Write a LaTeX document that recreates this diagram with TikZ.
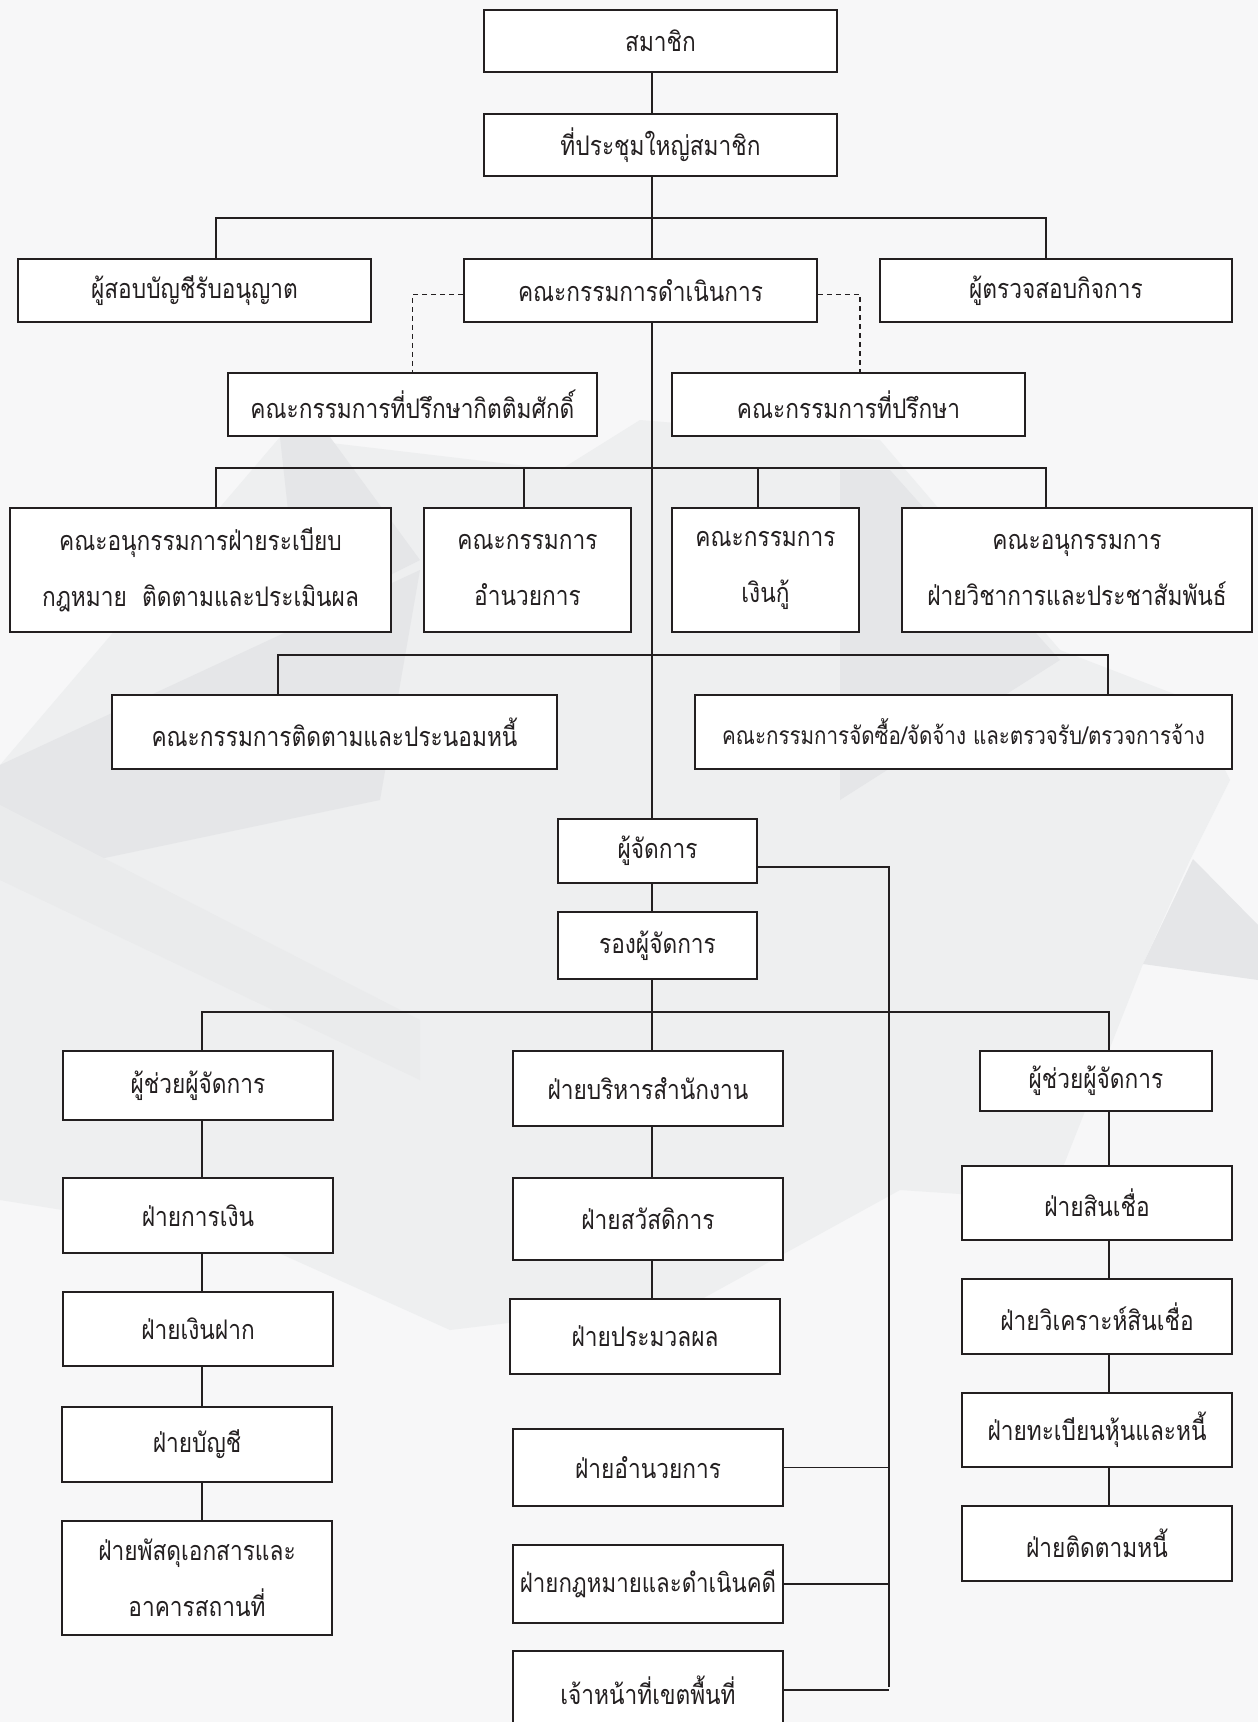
\documentclass[tikz,border=0pt]{standalone}
\usepackage{fontspec}
\newfontfamily\thaifont[Script=Thai, FakeStretch=0.84]{Loma}
\usetikzlibrary{calc}
\definecolor{paper}{HTML}{F7F7F8}
\definecolor{shadeA}{HTML}{EEEFF0}
\definecolor{shadeB}{HTML}{E5E6E8}
\definecolor{ink}{HTML}{231F20}

\begin{document}
\begin{tikzpicture}[x=1pt, y=-1pt,
unit/.style={rectangle, draw=ink, line width=1.8pt, fill=white, text=ink, inner sep=2pt,
  align=center, font=\thaifont\fontsize{27}{56}\selectfont},
wire/.style={draw=ink, line width=1.4pt},
link/.style={draw=ink, line width=1.4pt, dash pattern=on 5pt off 4pt}
  ]
  % background
  \useasboundingbox (0,0) rectangle (1258,1722);
  \fill[paper] (0,0) rectangle (1258,1722);
  \fill[shadeA] (0,765) -- (280,437) -- (560,470) -- (640,420) -- (880,440) -- (1060,650)
    -- (1190,700) -- (1230,780) -- (1190,860) -- (1143,964) -- (1050,1200) -- (900,1190)
    -- (700,1300) -- (450,1330) -- (250,1240) -- (0,1200) -- cycle;
  \fill[shadeB] (0,765) -- (420,570) -- (380,800) -- (0,880) -- cycle;
  \fill[shadeB] (280,437) -- (330,437) -- (420,560) -- (300,620) -- cycle;
  \fill[shadeB] (840,470) -- (890,470) -- (1060,660) -- (840,800) -- cycle;
  \fill[shadeB] (1193,859) -- (1258,925) -- (1258,980) -- (1143,964) -- cycle;
  \fill[shadeB!50!shadeA] (0,805) -- (420,1020) -- (420,1080) -- (0,880) -- cycle;

  % top levels
  \node[unit, minimum width=353, minimum height=62] (members) at (660.5,41) {สมาชิก};
  \node[unit, minimum width=353, minimum height=62] (meeting) at (660.5,145) {ที่ประชุมใหญ่สมาชิก};
  \node[unit, minimum width=353, minimum height=63] (auditor) at (194.5,290.5) {ผู้สอบบัญชีรับอนุญาต};
  \node[unit, minimum width=353, minimum height=63] (board) at (640.5,290.5) {คณะกรรมการดำเนินการ};
  \node[unit, minimum width=352, minimum height=63] (inspector) at (1056,290.5) {ผู้ตรวจสอบกิจการ};
  \node[unit, minimum width=369, minimum height=63] (honadv) at (412.5,404.5) {คณะกรรมการที่ปรึกษากิตติมศักดิ์};
  \node[unit, minimum width=353, minimum height=63] (advisors) at (848.5,404.5) {คณะกรรมการที่ปรึกษา};

  % committees
  \node[unit, minimum width=381, minimum height=124] (subrule) at (200.5,570) {คณะอนุกรรมการฝ่ายระเบียบ\\กฎหมาย\ \ ติดตามและประเมินผล};
  \node[unit, minimum width=207, minimum height=124] (subadmin) at (527.5,570) {คณะกรรมการ\\อำนวยการ};
  \node[unit, minimum width=187, minimum height=124] (subloan) at (765.5,570) {คณะกรรมการ\\เงินกู้};
  \node[unit, minimum width=350, minimum height=124] (subacad) at (1077,570) {คณะอนุกรรมการ\\ฝ่ายวิชาการและประชาสัมพันธ์};
  \node[unit, minimum width=445, minimum height=74] (debtcom) at (334.5,732) {คณะกรรมการติดตามและประนอมหนี้};
  \node[unit, minimum width=537, minimum height=74, font=\thaifont\fontsize{24.5}{28}\selectfont] (procure) at (963.5,732) {คณะกรรมการจัดซื้อ/จัดจ้าง และตรวจรับ/ตรวจการจ้าง};

  % management
  \node[unit, minimum width=199, minimum height=64] (manager) at (657.5,851) {ผู้จัดการ};
  \node[unit, minimum width=199, minimum height=67] (deputy) at (657.5,945.5) {รองผู้จัดการ};

  % left column
  \node[unit, minimum width=270, minimum height=69] (asstL) at (198,1085.5) {ผู้ช่วยผู้จัดการ};
  \node[unit, minimum width=270, minimum height=75] (finance) at (198,1215.5) {ฝ่ายการเงิน};
  \node[unit, minimum width=270, minimum height=74] (deposit) at (198,1329) {ฝ่ายเงินฝาก};
  \node[unit, minimum width=270, minimum height=75] (account) at (197,1444.5) {ฝ่ายบัญชี};
  \node[unit, minimum width=270, minimum height=114] (supply) at (197,1578) {ฝ่ายพัสดุเอกสารและ\\อาคารสถานที่};

  % middle column
  \node[unit, minimum width=270, minimum height=75] (office) at (648,1088.5) {ฝ่ายบริหารสำนักงาน};
  \node[unit, minimum width=270, minimum height=82] (welfare) at (648,1219) {ฝ่ายสวัสดิการ};
  \node[unit, minimum width=270, minimum height=75] (dataproc) at (645,1336.5) {ฝ่ายประมวลผล};
  \node[unit, minimum width=270, minimum height=77] (general) at (648,1467.5) {ฝ่ายอำนวยการ};
  \node[unit, minimum width=270, minimum height=78, font=\thaifont\fontsize{26.5}{28}\selectfont] (legal) at (648,1584) {ฝ่ายกฎหมายและดำเนินคดี};
  \node[unit, minimum width=270, minimum height=78] (fieldstaff) at (648,1690) {เจ้าหน้าที่เขตพื้นที่};

  % right column
  \node[unit, minimum width=232, minimum height=60] (asstR) at (1096,1081) {ผู้ช่วยผู้จัดการ};
  \node[unit, minimum width=270, minimum height=74] (credit) at (1097,1203) {ฝ่ายสินเชื่อ};
  \node[unit, minimum width=270, minimum height=75] (analysis) at (1097,1316.5) {ฝ่ายวิเคราะห์สินเชื่อ};
  \node[unit, minimum width=270, minimum height=74] (register) at (1097,1430) {ฝ่ายทะเบียนหุ้นและหนี้};
  \node[unit, minimum width=270, minimum height=75] (debtfollow) at (1097,1543.5) {ฝ่ายติดตามหนี้};

  % connectors
  \coordinate (trunk) at (652,0);
  \coordinate (lcol) at (202,0);
  \coordinate (rcol) at (1109,0);
  \coordinate (side) at (889,1687);
  \coordinate (bus1) at (652,218);
  \coordinate (bus2) at (652,468);
  \coordinate (bus3) at (652,655);
  \coordinate (bus4) at (652,1012);

  \draw[wire] (members.south -| trunk) -- (meeting.north -| trunk);
  \draw[wire] (meeting.south -| trunk) -- (board.north -| trunk);
  \draw[wire] ([xshift=21.5]auditor.north) |- (bus1) -| ([xshift=-10]inspector.north);
  \draw[link] ([yshift=-4]board.west) -| (honadv.north);
  \draw[link] ([yshift=-4]board.east) -| ([xshift=11.5]advisors.north);
  \draw[wire] (board.south -| trunk) -- (manager.north -| trunk);
  \draw[wire] ([xshift=15.5]subrule.north) |- (bus2) -| ([xshift=-31]subacad.north);
  \draw[wire] ([xshift=-3.5]subadmin.north) |- (bus2);
  \draw[wire] ([xshift=-7.5]subloan.north) |- (bus2);
  \draw[wire] ([xshift=-56.5]debtcom.north) |- (bus3) -| ([xshift=144.5]procure.north);

  \draw[wire] (manager.south -| trunk) -- (deputy.north -| trunk);
  \draw[wire] ([yshift=-16]manager.east) -| (side);
  \draw[wire] (deputy.south -| trunk) -- (office.north -| trunk);
  \draw[wire] (asstL.north -| lcol) |- (bus4) -| (asstR.north -| rcol);
  \foreach \a/\b in {asstL/finance, finance/deposit, deposit/account, account/supply}
    \draw[wire] (\a.south -| lcol) -- (\b.north -| lcol);
  \foreach \a/\b in {asstR/credit, credit/analysis, analysis/register, register/debtfollow}
    \draw[wire] (\a.south -| rcol) -- (\b.north -| rcol);
  \foreach \a/\b in {office/welfare, welfare/dataproc}
    \draw[wire] (\a.south -| trunk) -- (\b.north -| trunk);
  \foreach \u in {general, legal, fieldstaff}
    \draw[wire] (\u.east) -- (\u.east -| side);
\end{tikzpicture}
\end{document}
